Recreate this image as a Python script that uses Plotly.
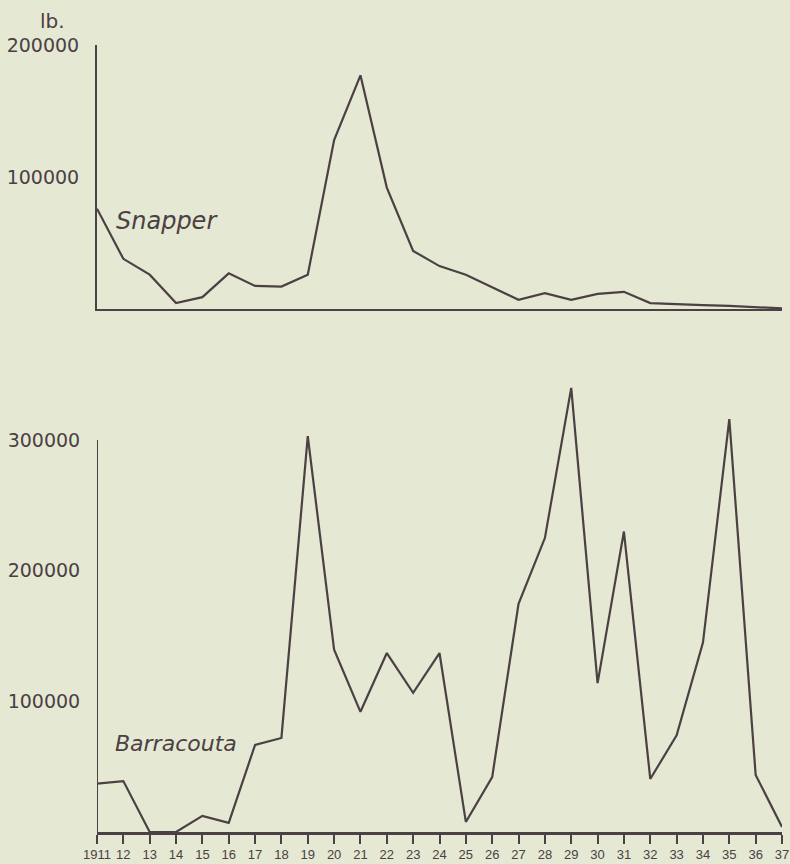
import plotly.graph_objects as go

years = list(range(1911, 1938))
year_labels = ["1911"] + [str(y)[2:] for y in range(1912, 1938)]
snapper = [76000, 38000, 26000, 4500, 9000, 27000, 17500, 17000, 26000, 128000,
           177000, 92000, 44000, 32500, 26000, 16500, 7000, 12000, 7000, 11500,
           13000, 4500, 4000, 3000, 2300, 1500, 500]
barracouta = [37000, 39000, 0, 0, 12300, 7000, 66700, 72000, 303000, 139500,
              92000, 137000, 106500, 137000, 7700, 42000, 174700, 225000, 340000, 114000,
              230000, 40600, 74000, 145000, 316000, 43700, 3800]
snapper_ticks = [100000, 200000]
barracouta_ticks = [100000, 200000, 300000]

INK = "#4b4043"
BG = "#e5e8d3"
FONT = "DejaVu Sans"

fig = go.Figure()
fig.add_trace(go.Scatter(x=years, y=snapper, mode="lines", xaxis="x", yaxis="y",
                         line=dict(color=INK, width=2.2), showlegend=False))
fig.add_trace(go.Scatter(x=years, y=barracouta, mode="lines", xaxis="x2", yaxis="y2",
                         line=dict(color=INK, width=2.2), showlegend=False))

H = 864
t, b = 45, 32
ph = H - t - b
def py(px):
    return 1 - (px - t) / ph

fig.update_layout(
    width=790, height=864,
    margin=dict(l=97, r=8, t=t, b=b, autoexpand=False),
    paper_bgcolor=BG, plot_bgcolor=BG,
    font=dict(family=FONT, color=INK),
    xaxis=dict(domain=[0, 1], range=[1911, 1937], anchor="y", automargin=False,
               showline=True, linecolor=INK, linewidth=2,
               showgrid=False, zeroline=False, showticklabels=False, ticks=""),
    yaxis=dict(domain=[py(309), 1], range=[0, 200000], anchor="x", automargin=False,
               showline=True, linecolor=INK, linewidth=2,
               showgrid=False, zeroline=False,
               tickmode="array", tickvals=snapper_ticks,
               ticktext=[f"{v}" for v in snapper_ticks],
               ticks="outside", ticklen=12, tickcolor="rgba(0,0,0,0)",
               tickfont=dict(size=19, color=INK, family=FONT)),
    xaxis2=dict(domain=[0, 1], range=[1911, 1937], anchor="y2", automargin=False,
                showline=True, linecolor=INK, linewidth=2.5,
                showgrid=False, zeroline=False,
                tickmode="array", tickvals=years, ticktext=year_labels,
                tickangle=0,
                ticks="outside", ticklen=9, tickwidth=2, tickcolor=INK,
                tickfont=dict(size=13, color=INK, family="Liberation Sans")),
    yaxis2=dict(domain=[0, py(380)], range=[0, 346000], anchor="x2", automargin=False,
                showline=False, showgrid=False, zeroline=False,
                tickmode="array", tickvals=barracouta_ticks,
                ticktext=[f"{v}" for v in barracouta_ticks],
                ticks="outside", ticklen=12, tickcolor="rgba(0,0,0,0)",
                tickfont=dict(size=19, color=INK, family=FONT)),
)

# vertical axis line of the lower panel up to 300000
fig.add_shape(type="line", xref="x2", yref="y2", x0=1911, x1=1911, y0=0, y1=300000,
              line=dict(color=INK, width=2))

fig.add_annotation(text="lb.", xref="paper", yref="paper", x=-0.065, y=1.0,
                   yshift=24, showarrow=False, xanchor="center", yanchor="middle",
                   font=dict(size=20, color=INK, family=FONT))
fig.add_annotation(text="<i>Snapper</i>", xref="x", yref="y", x=1911.65, y=67000,
                   showarrow=False, xanchor="left", yanchor="middle",
                   font=dict(size=24, color=INK, family=FONT))
fig.add_annotation(text="<i>Barracouta</i>", xref="x2", yref="y2", x=1911.6, y=68000,
                   showarrow=False, xanchor="left", yanchor="middle",
                   font=dict(size=22, color=INK, family=FONT))

fig.write_html(
    "out.html",
    config={"displayModeBar": False},
    post_script="document.body.style.margin='0';document.body.style.background='" + BG + "';",
)
